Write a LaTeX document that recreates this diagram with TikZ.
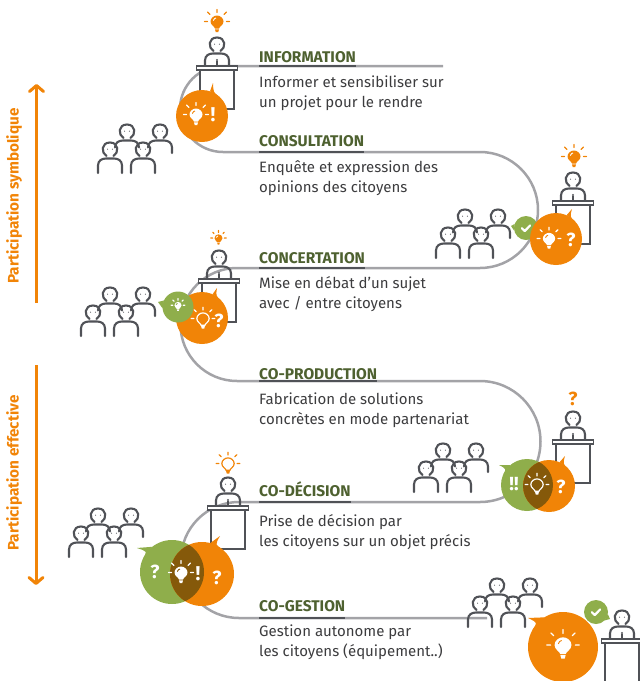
\documentclass[tikz,border=0pt]{standalone}
\usepackage{fontspec}
\setmainfont{Fira Sans}
\usetikzlibrary{positioning, arrows.meta, calc}

\definecolor{orangec}{HTML}{F18407}
\definecolor{greenc}{HTML}{8FAE4B}
\definecolor{brownc}{HTML}{85590A}
\definecolor{titlec}{HTML}{4E6130}
\definecolor{inkc}{HTML}{3C3C3E}
\definecolor{iconc}{HTML}{505257}
\definecolor{trackc}{HTML}{A3A3A7}

\tikzset{
  track/.style={draw=trackc, line width=2.5pt},
  titlebar/.style={draw=iconc, line width=2.8pt},
  step title/.style={anchor=base west, inner sep=0pt, text=titlec, font=\fontsize{15.5}{17}\selectfont\bfseries},
  step text/.style={anchor=north west, inner sep=0pt, align=left, text=inkc, font=\fontsize{15}{20}\selectfont},
  side label/.style={rotate=90, inner sep=0pt, text=orangec, font=\fontsize{15.3}{17}\selectfont\bfseries},
  side arrow/.style={draw=orangec, line width=3pt, -{Straight Barb[length=6pt,width=14pt,round]}},
  bubble/.style={circle, inner sep=0pt, outer sep=0pt, minimum size=#1},
  mark/.style={inner sep=0pt, text=white, font=\fontsize{#1}{#1}\selectfont\bfseries},
  pics/person/.style n args={2}{code={
      \draw[iconc, line width=2.1pt, line cap=round]
        (-3.5,6) .. controls (-9,3) and (-9,-7.5) .. (0,-7.5) .. controls (9,-7.5) and (9,3) .. (3.5,6);
      \draw[iconc, line width=2.1pt, line cap=round]
        (-12,#1) -- (-12,15.5) .. controls (-12,10.5) and (-8,8.5) .. (-4,8.5) -- (4,8.5)
        .. controls (8,8.5) and (12,10.5) .. (12,15.5) -- (12,#2);
      \fill[iconc] (-2.4,-.8) circle[radius=.6] (2.4,-.8) circle[radius=.6];
  }},
  pics/crowd/.style={code={
      \pic at (29,8) {person={15.5}{15.5}};
      \pic at (62,8) {person={15.5}{21}};
      \pic at (12,26) {person={23}{23}};
      \pic at (45,26) {person={23}{23}};
  }},
  pics/speaker/.style={code={
      \pic at (0,-23) {person={21}{21}};
      \draw[iconc, line width=1.6pt] (0,-2) -- (0,-7);
      \fill[iconc] (0,-8) circle[radius=1.2];
      \draw[iconc, fill=white, line width=1.8pt] (-17,2) rectangle (17,41);
      \draw[iconc, fill=white, line width=1.8pt] (-20.5,-2) rectangle (20.5,2);
  }},
  pics/bulbsolid/.style={code={
      \fill (-2,5.5) .. controls (-2.5,3.5) and (-6.5,2) .. (-6.5,-1.5) .. controls (-6.5,-5) and (-3,-7.5) .. (0,-7.5)
        .. controls (3,-7.5) and (6.5,-5) .. (6.5,-1.5) .. controls (6.5,2) and (2.5,3.5) .. (2,5.5) -- cycle;
      \fill (-2,6.3) -- (2,6.3) -- (1.3,9) -- (-1.3,9) -- cycle;
      \draw[#1, line width=.9pt] (-3.6,-2.4) .. controls (-3.2,-4) and (-2.2,-4.8) .. (-1,-5);
      \draw[line width=1.3pt, line cap=round]
        (0,-10.5) -- (0,-13.5) (7.2,-8.7) -- (9.3,-10.8) (-7.2,-8.7) -- (-9.3,-10.8)
        (9.5,-1.5) -- (12.5,-1.5) (-9.5,-1.5) -- (-12.5,-1.5);
  }},
  pics/bulbline/.style={code={
      \draw[line width=1.2pt] (-2,5.5) .. controls (-2.5,3.5) and (-6.5,2) .. (-6.5,-1.5) .. controls (-6.5,-5) and (-3,-7.5) .. (0,-7.5)
        .. controls (3,-7.5) and (6.5,-5) .. (6.5,-1.5) .. controls (6.5,2) and (2.5,3.5) .. (2,5.5) -- cycle;
      \fill (-2,6.3) -- (2,6.3) -- (1.3,9) -- (-1.3,9) -- cycle;
      \draw[line width=1.2pt, line cap=round]
        (0,-10.5) -- (0,-13.5) (7.2,-8.7) -- (9.3,-10.8) (-7.2,-8.7) -- (-9.3,-10.8)
        (9.5,-1.5) -- (12.5,-1.5) (-9.5,-1.5) -- (-12.5,-1.5);
  }},
  pics/tick/.style={code={
      \draw[white, line width=2.2pt, line cap=round, line join=round] (-4.2,.2) -- (-1.2,3) -- (4.2,-2.6);
  }},
}

\begin{document}
\begin{tikzpicture}[x=1pt, y=-1pt]
    \clip (0,0) rectangle (640,681);

    % the winding line
    \coordinate (a0) at (443,66);
    \coordinate (a1) at (223,66);
    \coordinate (a2) at (480,152);
    \coordinate (a3) at (237,268);
    \coordinate (a4) at (480,381);
    \coordinate (a5) at (239,502);
    \coordinate (a6) at (487,618);
    \draw[track] (a0) -- (a1) arc[start angle=-90, end angle=-270, radius=43] -- (a2)
      arc[start angle=-90, end angle=90, radius=58] -- (a3)
      arc[start angle=-90, end angle=-270, radius=56.5] -- (a4)
      arc[start angle=-90, end angle=90, radius=60.5] -- (a5)
      arc[start angle=-90, end angle=-270, radius=58] -- (a6);

    % titles and their texts
    \node[step title] (t1) at (259,62) {INFORMATION};
    \node[step text, below=13pt of t1.south west, anchor=north west] (d1) {Informer et sensibiliser sur\\un projet pour le rendre};
    \node[step title] (t2) at (259,146) {CONSULTATION};
    \node[step text, below=13.5pt of t2.south west, anchor=north west] (d2) {Enquête et expression des\\opinions des citoyens};
    \node[step title] (t3) at (259,263) {CONCERTATION};
    \node[step text, below=13pt of t3.south west, anchor=north west] (d3) {Mise en débat d’un sujet\\avec / entre citoyens};
    \node[step title] (t4) at (259,379) {CO-PRODUCTION};
    \node[step text, below=13pt of t4.south west, anchor=north west] (d4) {Fabrication de solutions\\concrètes en mode partenariat};
    \node[step title] (t5) at (259,496) {CO-DÉCISION};
    \node[step text, below=18pt of t5.south west, anchor=north west] (d5) {Prise de décision par\\les citoyens sur un objet précis};
    \node[step title] (t6) at (259,611) {CO-GESTION};
    \node[step text, below=13.5pt of t6.south west, anchor=north west] (d6) {Gestion autonome par\\les citoyens (équipement..)};

    \draw[titlebar] (t1.west |- a1) -- (t1.east |- a1);
    \draw[titlebar] (t2.west |- a2) -- (t2.east |- a2);
    \draw[titlebar] (t3.west |- a3) -- (t3.east |- a3);
    \draw[titlebar] (t4.west |- a4) -- (t4.east |- a4);
    \draw[titlebar] (t5.west |- a5) -- (t5.east |- a5);
    \draw[titlebar] (t6.west |- a6) -- (t6.east |- a6);

    % side arrows
    \coordinate (u0) at (36.5,303);
    \coordinate (u1) at (36.5,84);
    \coordinate (v0) at (36,365);
    \coordinate (v1) at (36,585);
    \draw[side arrow] (u0) -- (u1);
    \draw[side arrow] (v0) -- (v1);
    \node[side label] (s1) at (14,196) {Participation symbolique};
    \node[side label] (s2) at (14,473) {Participation effective};

    % crowds
    \pic at (98,124) {crowd};
    \pic at (436,209) {crowd};
    \pic at (81,287) {crowd};
    \pic at (414,443) {crowd};
    \pic at (69,508) {crowd};
    \pic at (468,578) {crowd};

    % speakers
    \pic at (217,68) {speaker};
    \pic at (573,203) {speaker};
    \pic at (219,281) {speaker};
    \pic at (573,442) {speaker};
    \pic at (228,508) {speaker};
    \pic at (622,641) {speaker};

    % what the speakers hold
    \pic[orangec] at (217,23) {bulbsolid=white};
    \pic[orangec] at (574,158) {bulbsolid=white};
    \pic[orangec, scale=.62] at (218.5,239) {bulbsolid=white};
    \pic[orangec, scale=.95] at (228,465) {bulbline};
    \node[mark=19, text=orangec] (q4) at (573,399) {?};

    % bubble 1
    \node[bubble=52pt, fill=orangec] (b1) at (202,116) {};
    \coordinate (b1t) at (213,83);
    \fill[orangec] (b1t) -- (b1.72) -- (b1.47) .. controls (b1.64) .. (b1t);
    \pic[white] at (196,116) {bulbsolid=orangec};
    \node[mark=20] (m1) at (213,115) {!};

    % bubble 2
    \node[bubble=24pt, fill=greenc] (g2) at (526,228) {};
    \coordinate (g2t) at (511,226);
    \fill[greenc] (g2t) -- (g2.160) -- (g2.195) -- cycle;
    \pic at (526,228) {tick};
    \node[bubble=52pt, fill=orangec] (b2) at (556,239) {};
    \coordinate (b2t) at (572,209);
    \fill[orangec] (b2t) -- (b2.66) -- (b2.42) .. controls (b2.58) .. (b2t);
    \pic[white, scale=.95] at (549,240) {bulbsolid=orangec};
    \node[mark=19] (m2) at (571,240) {?};

    % bubble 3
    \node[bubble=52pt, fill=orangec] (b3) at (202,318) {};
    \coordinate (b3t) at (217,288);
    \fill[orangec] (b3t) -- (b3.66) -- (b3.42) .. controls (b3.58) .. (b3t);
    \pic[white, scale=.95] at (203,320) {bulbline};
    \node[mark=19] (m3) at (219,321) {?};
    \node[bubble=31pt, fill=greenc] (g3) at (178,307) {};
    \coordinate (g3t) at (158,302);
    \fill[greenc] (g3t) -- (g3.155) -- (g3.185) -- cycle;
    \pic[white, scale=.55] at (178,306) {bulbsolid=greenc};

    % bubble 4
    \node[bubble=52pt, fill=greenc] (g4) at (527,485) {};
    \coordinate (g4t) at (499,465);
    \fill[greenc] (g4t) -- (g4.130) -- (g4.156) .. controls (g4.142) .. (g4t);
    \node[bubble=52pt, fill=orangec] (b4) at (549,486) {};
    \coordinate (b4t) at (565,456);
    \fill[orangec] (b4t) -- (b4.66) -- (b4.42) .. controls (b4.58) .. (b4t);
    \begin{scope}
      \clip (g4.center) circle[radius=26];
      \fill[brownc] (b4.center) circle[radius=26];
    \end{scope}
    \pic[white, scale=.95] at (537,486) {bulbline};
    \node[mark=19] (m4a) at (514,484) {!!};
    \node[mark=19] (m4b) at (561,487) {?};

    % bubble 5
    \node[bubble=64pt, fill=greenc] (g5) at (172,572) {};
    \coordinate (g5t) at (137,548);
    \fill[greenc] (g5t) -- (g5.128) -- (g5.155) .. controls (g5.140) .. (g5t);
    \node[bubble=64pt, fill=orangec] (b5) at (202,574) {};
    \coordinate (b5t) at (220,536);
    \fill[orangec] (b5t) -- (b5.75) -- (b5.50) .. controls (b5.66) .. (b5t);
    \begin{scope}
      \clip (g5.center) circle[radius=32];
      \fill[brownc] (b5.center) circle[radius=32];
    \end{scope}
    \pic[white] at (181,574) {bulbsolid=brownc};
    \node[mark=20] (m5a) at (198,574) {!};
    \node[mark=19] (m5b) at (155,572) {?};
    \node[mark=19] (m5c) at (217,578) {?};

    % bubble 6
    \node[bubble=70pt, fill=orangec] (b6) at (563,647) {};
    \coordinate (b6t) at (528,618);
    \fill[orangec] (b6t) -- (b6.122) -- (b6.152) .. controls (b6.136) .. (b6t);
    \pic[white, scale=1.3] at (563,647) {bulbsolid=orangec};
    \node[bubble=24pt, fill=greenc] (g6) at (596,612) {};
    \coordinate (g6t) at (610,619);
    \fill[greenc] (g6t) -- (g6.-10) -- (g6.-45) -- cycle;
    \pic at (596,612) {tick};
\end{tikzpicture}
\end{document}
